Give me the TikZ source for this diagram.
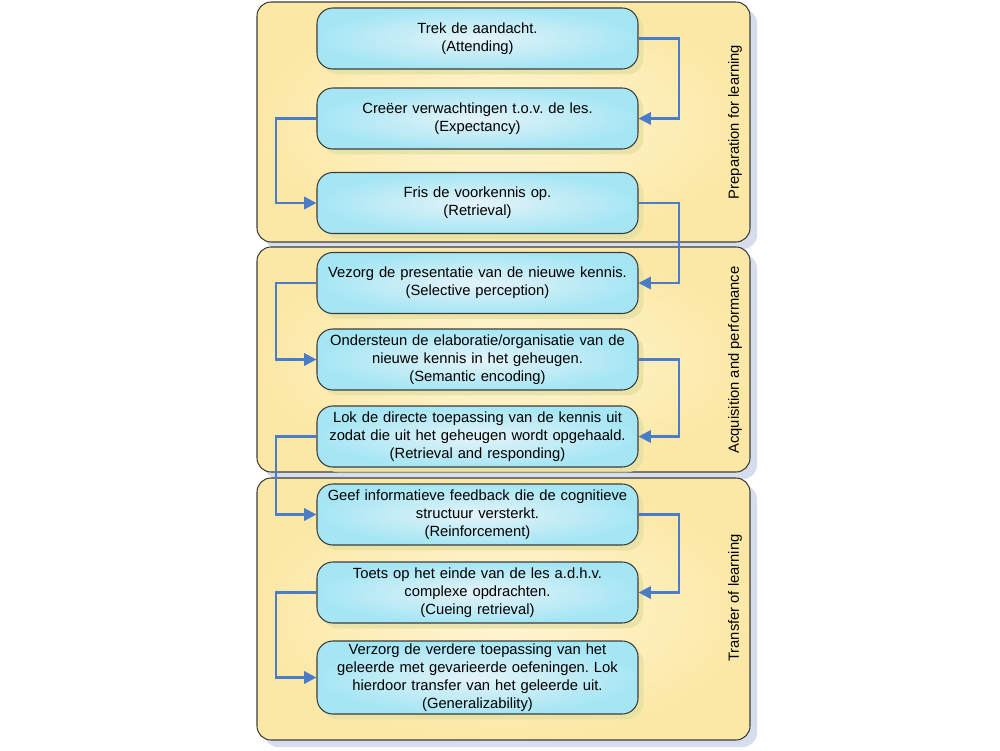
\documentclass[tikz,border=0pt]{standalone}
\usepackage{fontspec}
\setmainfont{Liberation Sans}
\usetikzlibrary{arrows.meta,shadows,positioning}
\definecolor{paneltop}{HTML}{FFF6D6}
\definecolor{panelfill}{HTML}{FCE8A6}
\definecolor{boxfill}{HTML}{A6E6F4}
\definecolor{boxinner}{HTML}{E4F3F9}
\definecolor{edgegray}{HTML}{3C3C3C}
\definecolor{flowblue}{HTML}{4A7CC9}
\definecolor{panelshadow}{HTML}{D6DEEE}
\frenchspacing
\tikzset{%
    >={Triangle[width=7pt,length=7pt]},
    % Specifications for style of nodes:
    base/.style = {
        rectangle, rounded corners=9pt, draw=edgegray, line width=0.6pt,
        text centered, align=center
    },
    panel/.style = {
        base, rounded corners=8pt, minimum width=9.86cm,
        shading=radial, inner color=paneltop, outer color=panelfill,
        drop shadow={shadow xshift=4pt, shadow yshift=-4pt, fill=panelshadow, opacity=1}
    },
    stepbox/.style = {
        base, minimum width=6.42cm, minimum height=1.22cm, text width=6.3cm,
        inner sep=1pt,
        shading=radial, inner color=boxinner, outer color=boxfill,
        font=\fontsize{8.4}{10.3}\selectfont,
        drop shadow={shadow xshift=3pt, shadow yshift=-3pt, fill=black!30!yellow!40!white, opacity=0.8}
    },
    phase/.style = {rotate=90, font=\fontsize{8.4}{10}\selectfont},
    flow/.style = {->, draw=flowblue, line width=1.3pt}
}
\begin{document}
\begin{tikzpicture}
\useasboundingbox (0,0) rectangle (20,-15);
% phases
\node[panel, minimum height=4.8cm] (P1) at (10.07,-2.44) {};
\node[panel, minimum height=4.5cm] (P2) at (10.07,-7.19) {};
\node[panel, minimum height=5.24cm] (P3) at (10.07,-12.18) {};
\node[phase] (L1) at (14.7,-2.44) {Preparation for learning};
\node[phase] (L2) at (14.7,-7.2) {Acquisition and performance};
\node[phase] (L3) at (14.7,-11.96) {Transfer of learning};
% steps
\node[stepbox] (S1) at (9.55,-0.77) {Trek de aandacht.\\(Attending)};
\node[stepbox] (S2) at (9.55,-2.37) {Creëer verwachtingen t.o.v. de les.\\(Expectancy)};
\node[stepbox] (S3) at (9.55,-4.06) {Fris de voorkennis op.\\(Retrieval)};
\node[stepbox] (S4) at (9.55,-5.66) {Vezorg de presentatie van de nieuwe kennis.\\(Selective perception)};
\node[stepbox] (S5) at (9.55,-7.19) {Ondersteun de elaboratie/organisatie van de\\nieuwe kennis in het geheugen.\\(Semantic encoding)};
\node[stepbox] (S6) at (9.55,-8.73) {Lok de directe toepassing van de kennis uit\\zodat die uit het geheugen wordt opgehaald.\\(Retrieval and responding)};
\node[stepbox] (S7) at (9.55,-10.29) {Geef informatieve feedback die de cognitieve\\structuur versterkt.\\(Reinforcement)};
\node[stepbox] (S8) at (9.55,-11.85) {Toets op het einde van de les a.d.h.v.\\complexe opdrachten.\\(Cueing retrieval)};
\node[stepbox, minimum height=1.46cm] (S9) at (9.55,-13.55) {Verzorg de verdere toepassing van het\\geleerde met gevarieerde oefeningen. Lok\\hierdoor transfer van het geleerde uit.\\(Generalizability)};
% connectors
\coordinate (R) at (13.58,0);
\coordinate (L) at (5.52,0);
\foreach \a/\b in {S1/S2,S3/S4,S5/S6,S7/S8}
    \draw[flow] (\a.east) -- (R |- \a.east) -- (R |- \b.east) -- (\b.east);
\foreach \a/\b in {S2/S3,S4/S5,S6/S7,S8/S9}
    \draw[flow] (\a.west) -- (L |- \a.west) -- (L |- \b.west) -- (\b.west);
\end{tikzpicture}
\end{document}
